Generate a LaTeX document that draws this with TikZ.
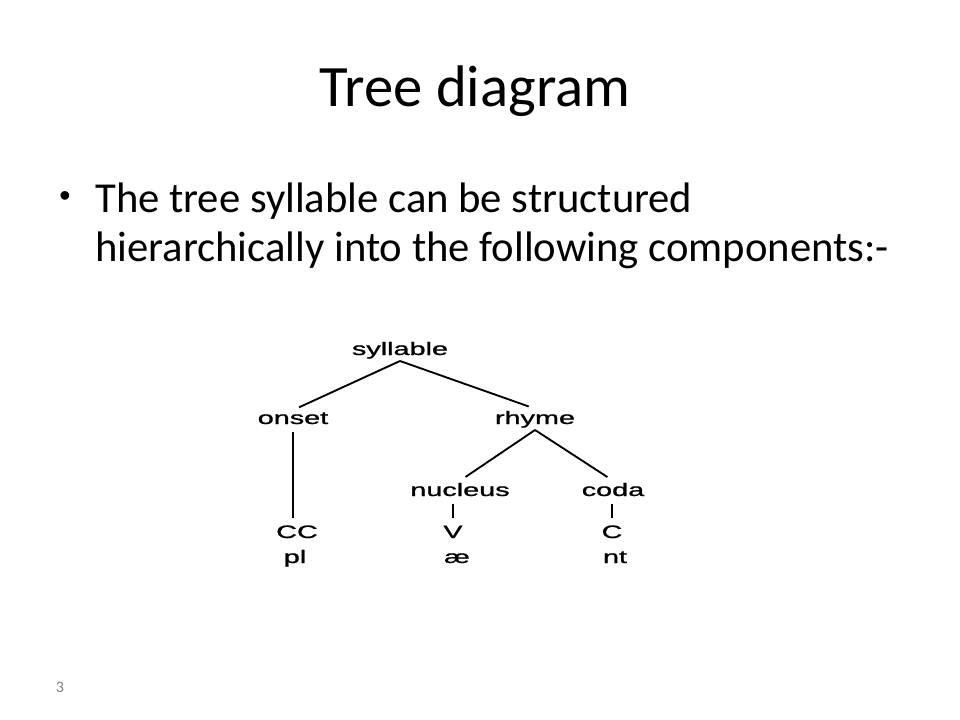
\documentclass[tikz,border=0pt]{standalone}
\usepackage{fontspec}
\setmainfont{Carlito}
\newfontfamily\treefont[FakeBold=1]{Liberation Sans}
\newfontfamily\dotfont{Liberation Sans}
\usepackage{graphicx}
\newcommand{\wide}[1]{\scalebox{1.6}[1]{#1}}
\tikzset{
  word/.style={font=\treefont\fontsize{13.5}{16}\selectfont, inner sep=1.5pt, anchor=base},
  branch/.style={line width=1.4pt, shorten >=5pt},
  stem/.style={line width=1.4pt, shorten <=4pt, shorten >=4pt}
}
\begin{document}
\begin{tikzpicture}[x=0.75pt,y=-0.75pt]
  \useasboundingbox (0,0) rectangle (960,720);
  % slide text
  \node[font=\fontsize{44}{53}\selectfont, inner sep=0, anchor=base] (title) at (475,107) {Tree diagram};
  \node[font=\dotfont\fontsize{24}{28}\selectfont, inner sep=0, anchor=base] (dot) at (65,207) {\textbullet};
  \node[font=\fontsize{32}{38}\selectfont, inner sep=0, anchor=base west] (line1) at (95,213) {The tree syllable can be structured};
  \node[font=\fontsize{32}{38}\selectfont, inner sep=0, anchor=base west] (line2) at (95,262) {hierarchically into the following components:-};
  \node[font=\fontsize{12}{14}\selectfont, text=gray, inner sep=0, anchor=base] (page) at (60,692) {3};

  % tree
  \node[word] (syl) at (400,355) {\wide{syllable}};
  \node[word] (onset) at (293,424) {\wide{onset}};
  \node[word] (rhyme) at (535,424) {\wide{rhyme}};
  \node[word] (nuc) at (460,496) {\wide{nucleus}};
  \node[word] (coda) at (613,496) {\wide{coda}};
  \node[word] (CC) at (297,538) {\wide{CC}};
  \node[word] (V) at (453,538) {\wide{V}};
  \node[word] (C) at (612,538) {\wide{C}};
  \node[word] (pl) at (295,563) {\wide{pl}};
  \node[word] (ae) at (457,563) {\wide{æ}};
  \node[word] (nt) at (615,563) {\wide{nt}};

  \draw[branch] (syl.south) -- (onset.north);
  \draw[branch] (syl.south) -- (rhyme.north);
  \draw[branch] (rhyme.south) -- (nuc.north);
  \draw[branch] (rhyme.south) -- (coda.north);
  \draw[stem] (onset.south) -- (onset.south |- CC.north);
  \draw[stem] (V.north |- nuc.south) -- (V.north);
  \draw[stem] (C.north |- coda.south) -- (C.north);
\end{tikzpicture}
\end{document}
